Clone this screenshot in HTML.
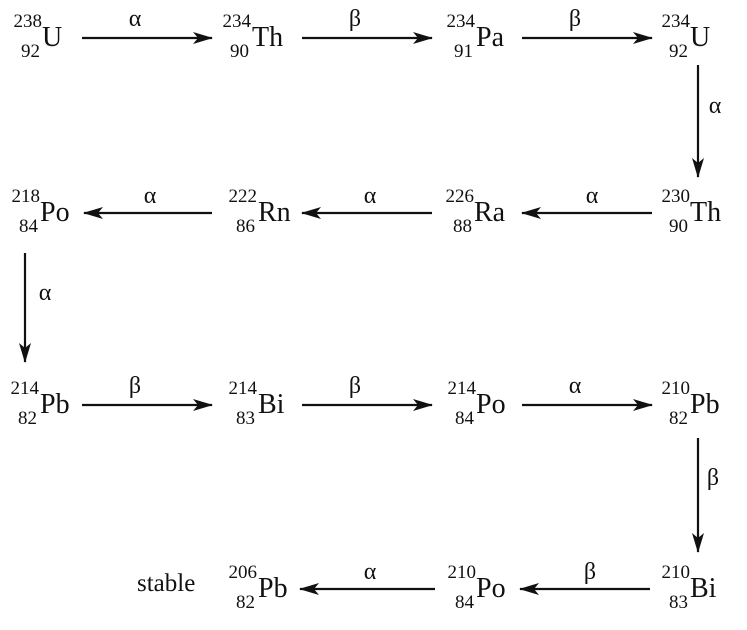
<!DOCTYPE html>
<html><head><meta charset="utf-8"><style>
html,body{margin:0;padding:0;background:#fff;}
svg{display:block;}
svg text{font-family:"Liberation Serif","Times New Roman","DejaVu Serif",serif !important;fill:#111;}
.s{font-size:28px;}
.n{font-size:19px;}
.g{font-size:24px;}
</style></head><body>
<svg width="747" height="630" viewBox="0 0 747 630" xmlns="http://www.w3.org/2000/svg" font-family="Liberation Serif, serif">
<defs>
<marker id="ah" markerWidth="20" markerHeight="12" refX="19" refY="6" orient="auto" markerUnits="userSpaceOnUse">
<path d="M0,0 L20,6 L0,12 L5,6 Z" fill="#111"/>
</marker>
</defs>
<g stroke="#111" stroke-width="2.2" fill="none" marker-end="url(#ah)">
<line x1="82" y1="38" x2="212" y2="38"/>
<line x1="302" y1="38" x2="432" y2="38"/>
<line x1="522" y1="38" x2="652" y2="38"/>
<line x1="698" y1="65" x2="698" y2="177"/>
<line x1="652" y1="213" x2="522" y2="213"/>
<line x1="432" y1="213" x2="302" y2="213"/>
<line x1="212" y1="213" x2="84" y2="213"/>
<line x1="25" y1="253" x2="25" y2="362"/>
<line x1="82" y1="405" x2="212" y2="405"/>
<line x1="302" y1="405" x2="432" y2="405"/>
<line x1="522" y1="405" x2="652" y2="405"/>
<line x1="698" y1="438" x2="698" y2="552"/>
<line x1="650" y1="589" x2="520" y2="589"/>
<line x1="435" y1="589" x2="300" y2="589"/>
</g>
<g class="g">
<text x="135" y="26" text-anchor="middle">α</text>
<text x="355" y="26" text-anchor="middle">β</text>
<text x="575" y="26" text-anchor="middle">β</text>
<text x="715" y="113" text-anchor="middle">α</text>
<text x="592" y="203" text-anchor="middle">α</text>
<text x="370" y="203" text-anchor="middle">α</text>
<text x="150" y="203" text-anchor="middle">α</text>
<text x="45" y="300" text-anchor="middle">α</text>
<text x="135" y="393" text-anchor="middle">β</text>
<text x="355" y="393" text-anchor="middle">β</text>
<text x="575" y="393" text-anchor="middle">α</text>
<text x="713" y="485" text-anchor="middle">β</text>
<text x="590" y="579" text-anchor="middle">β</text>
<text x="370" y="579" text-anchor="middle">α</text>
</g>
<g>
<text class="n" x="42" y="27" text-anchor="end">238</text><text class="n" x="40" y="57" text-anchor="end">92</text><text class="s" x="42" y="46">U</text>
<text class="n" x="251" y="27" text-anchor="end">234</text><text class="n" x="249" y="57" text-anchor="end">90</text><text class="s" x="252" y="46">Th</text>
<text class="n" x="475" y="27" text-anchor="end">234</text><text class="n" x="473" y="57" text-anchor="end">91</text><text class="s" x="476" y="46">Pa</text>
<text class="n" x="690" y="27" text-anchor="end">234</text><text class="n" x="688" y="57" text-anchor="end">92</text><text class="s" x="690" y="46">U</text>
</g>
<g>
<text class="n" x="40" y="202" text-anchor="end">218</text><text class="n" x="38" y="232" text-anchor="end">84</text><text class="s" x="40" y="221">Po</text>
<text class="n" x="257" y="202" text-anchor="end">222</text><text class="n" x="255" y="232" text-anchor="end">86</text><text class="s" x="258" y="221">Rn</text>
<text class="n" x="474" y="202" text-anchor="end">226</text><text class="n" x="472" y="232" text-anchor="end">88</text><text class="s" x="474" y="221">Ra</text>
<text class="n" x="690" y="202" text-anchor="end">230</text><text class="n" x="688" y="232" text-anchor="end">90</text><text class="s" x="690" y="221">Th</text>
</g>
<g>
<text class="n" x="39" y="394" text-anchor="end">214</text><text class="n" x="37" y="424" text-anchor="end">82</text><text class="s" x="40" y="413">Pb</text>
<text class="n" x="257" y="394" text-anchor="end">214</text><text class="n" x="255" y="424" text-anchor="end">83</text><text class="s" x="258" y="413">Bi</text>
<text class="n" x="476" y="394" text-anchor="end">214</text><text class="n" x="474" y="424" text-anchor="end">84</text><text class="s" x="476" y="413">Po</text>
<text class="n" x="690" y="394" text-anchor="end">210</text><text class="n" x="688" y="424" text-anchor="end">82</text><text class="s" x="690" y="413">Pb</text>
</g>
<g>
<text class="g" x="137" y="591" style="font-size:25px">stable</text>
<text class="n" x="257" y="578" text-anchor="end">206</text><text class="n" x="255" y="608" text-anchor="end">82</text><text class="s" x="258" y="597">Pb</text>
<text class="n" x="476" y="578" text-anchor="end">210</text><text class="n" x="474" y="608" text-anchor="end">84</text><text class="s" x="476" y="597">Po</text>
<text class="n" x="690" y="578" text-anchor="end">210</text><text class="n" x="688" y="608" text-anchor="end">83</text><text class="s" x="690" y="597">Bi</text>
</g>
</svg>
</body></html>
